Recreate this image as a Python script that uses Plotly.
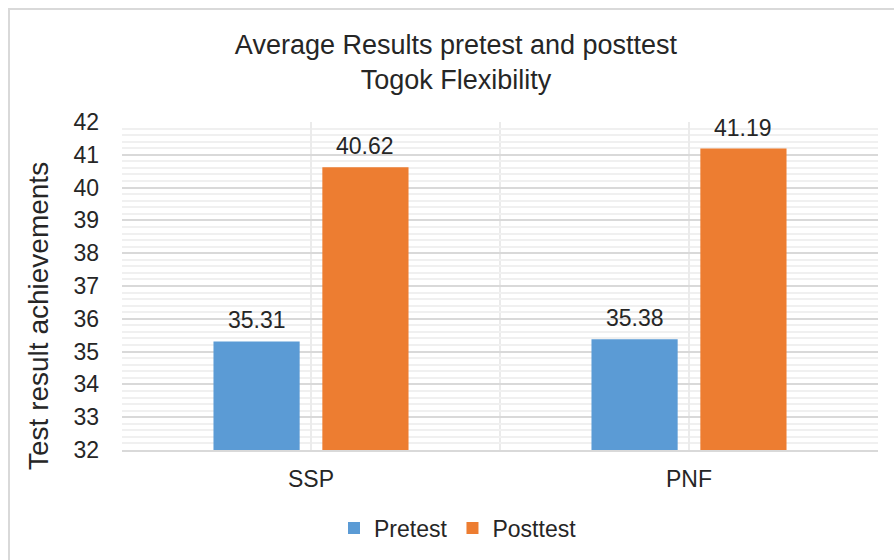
import plotly.graph_objects as go

categories = ["SSP", "PNF"]
pretest = [35.31, 35.38]
posttest = [40.62, 41.19]
series_names = ["Pretest", "Posttest"]
y_ticks = list(range(32, 43))
y_title = "Test result achievements"

FONT = "Liberation Sans, Arial, sans-serif"
TXT = "#262626"
xpos = list(range(len(categories)))

BAR_W = 0.228
OFFS = [-0.258, 0.03]
COLORS = ["#5B9BD5", "#ED7D31"]

fig = go.Figure()
annotations = []
for name, vals, off, col in zip(series_names, [pretest, posttest], OFFS, COLORS):
    fig.add_trace(go.Bar(
        x=xpos, y=vals, name=name,
        marker=dict(color=col, line=dict(width=0)),
        width=BAR_W, offset=off,
    ))
    for xi, v in zip(xpos, vals):
        annotations.append(dict(
            x=xi + off + BAR_W / 2, y=v, xref="x", yref="y",
            text=f"{v:.2f}", showarrow=False, yanchor="bottom", yshift=6,
            font=dict(size=23, color=TXT, family=FONT),
        ))

# y-axis title
annotations.append(dict(
    text=y_title, xref="paper", yref="paper",
    x=(38 - 122) / 756, y=(450 - 316) / 328, xanchor="center", yanchor="middle",
    textangle=-90, showarrow=False,
    font=dict(size=28, color=TXT, family=FONT),
))

fig.update_layout(
    width=894, height=560,
    margin=dict(l=122, r=16, t=122, b=110, autoexpand=False),
    paper_bgcolor="white", plot_bgcolor="white",
    barmode="overlay",
    font=dict(family=FONT, color=TXT, size=23),
    title=dict(
        text="Average Results pretest and posttest<br>Togok Flexibility",
        x=456 / 894, xanchor="center",
        y=1 - 54 / 560, yanchor="top",
        font=dict(size=27, color=TXT, family=FONT),
    ),
    legend=dict(
        orientation="h", x=(458 - 122) / 756, xanchor="center",
        y=(450 - 528) / 328, yanchor="middle",
        font=dict(size=23, color=TXT, family=FONT),
        itemwidth=30, traceorder="normal",
    ),
    xaxis=dict(
        range=[-0.5, 1.5], tickmode="array", tickvals=xpos, ticktext=categories,
        showgrid=True, gridcolor="#ebebeb", gridwidth=1.5,
        minor=dict(tickmode="array", tickvals=[-0.5, 0.5, 1.5], showgrid=True,
                   gridcolor="#ebebeb", gridwidth=1.5),
        showline=True, linecolor="#d9d9d9", linewidth=2,
        ticks="", zeroline=False, ticklabelstandoff=7,
        tickfont=dict(size=23, color=TXT, family=FONT),
        fixedrange=True,
    ),
    yaxis=dict(
        range=[32, 42], tickmode="array", tickvals=y_ticks,
        showgrid=True, gridcolor="#d9d9d9", gridwidth=1.5,
        minor=dict(dtick=0.2, tick0=32, showgrid=True, gridcolor="#f0f0f0", gridwidth=1.5),
        zeroline=False, ticks="", ticklabelstandoff=22,
        tickfont=dict(size=23, color=TXT, family=FONT),
        fixedrange=True,
    ),
    annotations=annotations,
    shapes=[dict(
        type="rect", xref="paper", yref="paper",
        x0=(9 - 122) / 756, x1=1.2, y0=-0.6, y1=(450 - 9) / 328,
        line=dict(color="#d9d9d9", width=2), fillcolor="rgba(0,0,0,0)", layer="below",
    )],
)

fig.write_html("out.html", config={"displayModeBar": False})

with open("out.html", "r", encoding="utf-8") as f:
    html = f.read()
html = html.replace("<head>", "<head><style>html,body{margin:0;padding:0;}</style>", 1)
with open("out.html", "w", encoding="utf-8") as f:
    f.write(html)
